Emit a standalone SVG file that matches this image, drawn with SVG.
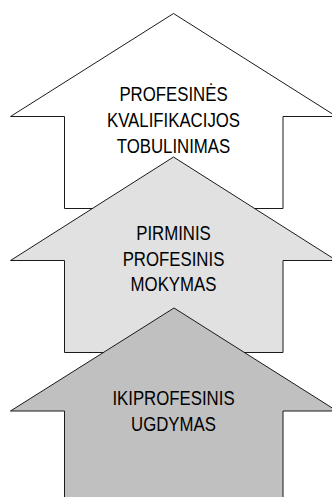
<svg xmlns="http://www.w3.org/2000/svg" width="332" height="497" viewBox="0 0 332 497">
  <style>
    .arrow { stroke: #1a1a1a; stroke-width: 1; stroke-linejoin: miter; }
    .lbl { font-family: "Liberation Sans", Arial, sans-serif; font-size: 21px; fill: #000; text-anchor: middle; }
  </style>
  <rect x="0" y="0" width="332" height="497" fill="#ffffff"/>
  <g id="connectors"></g>
  <g id="node-top">
    <path class="arrow" fill="#ffffff" d="M173.5,13.5 L336.5,116.5 L283,116.5 L283,208.5 L64.5,208.5 L64.5,116.5 L10.5,116.5 Z"/>
    <g transform="translate(173.5 0) scale(0.8 1)">
      <text class="lbl" x="0" y="101">PROFESINĖS</text>
      <text class="lbl" x="0" y="127.5">KVALIFIKACIJOS</text>
      <text class="lbl" x="0" y="153">TOBULINIMAS</text>
    </g>
  </g>
  <g id="node-middle">
    <path class="arrow" fill="#e1e1e1" d="M173.5,157 L336.5,260.5 L283,260.5 L283,352.5 L64.5,352.5 L64.5,260.5 L10.5,260.5 Z"/>
    <g transform="translate(173.5 0) scale(0.8 1)">
      <text class="lbl" x="0" y="240">PIRMINIS</text>
      <text class="lbl" x="0" y="266">PROFESINIS</text>
      <text class="lbl" x="0" y="291.5">MOKYMAS</text>
    </g>
  </g>
  <g id="node-bottom">
    <path class="arrow" fill="#c0c0c0" d="M174,308 L337,411 L283,411 L283,500 L64.5,500 L64.5,411 L10.5,411 Z"/>
    <g transform="translate(173.5 0) scale(0.8 1)">
      <text class="lbl" x="0" y="405">IKIPROFESINIS</text>
      <text class="lbl" x="0" y="431.5">UGDYMAS</text>
    </g>
  </g>
</svg>
